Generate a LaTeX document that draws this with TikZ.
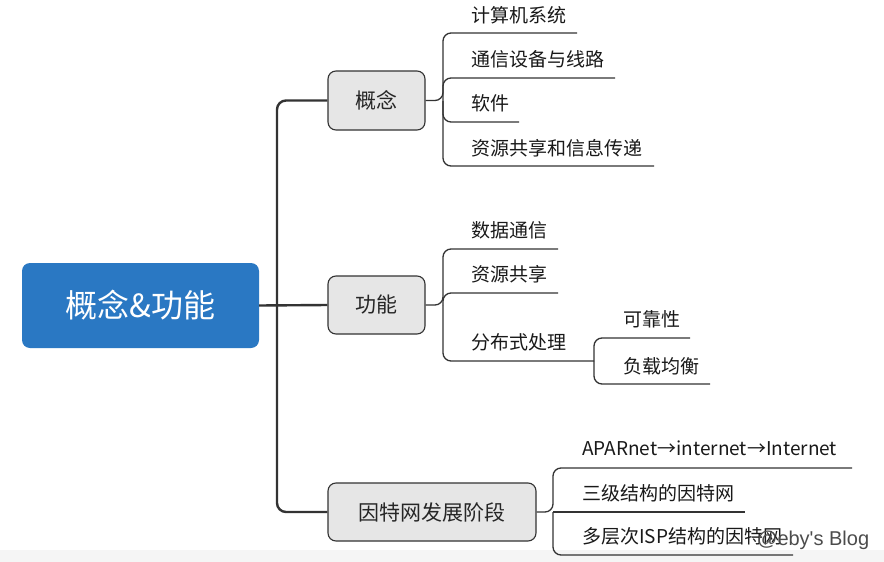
\documentclass[tikz,border=0pt]{standalone}
\usepackage{fontspec}
\setmainfont{Noto Sans CJK SC}
\newfontfamily\wmfont{Liberation Sans}
\usetikzlibrary{calc}
\definecolor{rootblue}{HTML}{2A78C3}
\definecolor{boxgray}{HTML}{E6E6E6}
\definecolor{linedark}{HTML}{333333}
\definecolor{bandgray}{HTML}{F5F5F5}
\begin{document}
\begin{tikzpicture}[x=1pt,y=-1pt,
  trunk/.style={draw=linedark,line width=2.4pt,rounded corners=9pt},
  twig/.style={draw=linedark,line width=1.3pt,rounded corners=8pt},
  rootbox/.style={fill=rootblue,rounded corners=8pt,minimum width=237pt,minimum height=85pt,
    text=white,font=\fontsize{32}{36}\selectfont},
  topic/.style={draw=linedark,line width=1.1pt,fill=boxgray,rounded corners=8pt,
    minimum height=58pt,font=\fontsize{21}{24}\selectfont,text=black!85},
  leaf/.style={anchor=west,inner sep=0pt,font=\fontsize{19}{22}\selectfont,text=black!90}]
\useasboundingbox (0,0) rectangle (884,562);
\fill[white] (0,0) rectangle (884,562);
\fill[bandgray] (0,550) rectangle (884,562);

% root and topics
\node[rootbox] (root) at (140.5,305.5) {概念\&功能};
\node[topic,minimum width=97pt,minimum height=59pt] (gn) at (376.5,100.5) {概念};
\node[topic,minimum width=97pt] (gl) at (376.5,305) {功能};
\node[topic,minimum width=208pt] (yt) at (432,512) {因特网发展阶段};

% trunk
\coordinate (tk) at (277,305);
\draw[trunk] (root.east) -- (gl.west);
\draw[trunk] (tk) |- (gn.west);
\draw[trunk] (tk) |- (yt.west);

% group 1 leaves
\node[leaf] (a1) at (471,15) {计算机系统};
\node[leaf] (a2) at (471,59) {通信设备与线路};
\node[leaf] (a3) at (471,103) {软件};
\node[leaf] (a4) at (471,148) {资源共享和信息传递};
\coordinate (ja) at (443,100.5);
\coordinate (ua1) at (577,33);
\coordinate (ua2) at (615,78);
\coordinate (ua3) at (519,122);
\coordinate (ua4) at (654,166);
\draw[twig] (gn.east) -- (ja) |- (ua1);
\draw[twig] (ja) |- (ua2);
\draw[twig] (ja) |- (ua3);
\draw[twig] (ja) |- (ua4);

% group 2 leaves
\node[leaf] (b1) at (471,230) {数据通信};
\node[leaf] (b2) at (471,274) {资源共享};
\node[leaf] (b3) at (471,342) {分布式处理};
\coordinate (jb) at (443,305);
\coordinate (ub1) at (558,249);
\coordinate (ub2) at (558,293);
\coordinate (ub3) at (577,361);
\coordinate (jc) at (594,361);
\draw[twig] (gl.east) -- (jb) |- (ub1);
\draw[twig] (jb) |- (ub2);
\draw[twig] (jb) |- (ub3) -- (jc);

% sub leaves
\node[leaf] (c1) at (623,319) {可靠性};
\node[leaf] (c2) at (623,366) {负载均衡};
\coordinate (uc1) at (690,338);
\coordinate (uc2) at (710,384);
\draw[twig] (jc) |- (uc1);
\draw[twig] (jc) |- (uc2);

% group 3 leaves
\node[leaf] (d1) at (582,448) {APARnet→internet→Internet};
\node[leaf] (d2) at (582,493) {三级结构的因特网};
\node[leaf] (d3) at (582,536) {多层次ISP结构的因特网};
\coordinate (jd) at (553,512);
\coordinate (ud1) at (852,468);
\coordinate (ud2) at (745,512);
\coordinate (ud3) at (793,555);
\draw[twig] (yt.east) -- (jd) |- (ud1);
\draw[twig] (jd) -- (ud2);
\draw[twig] (jd) |- (ud3);

% watermark
\node[anchor=base west,inner sep=0pt,text=black!70,font=\wmfont\fontsize{20}{24}\selectfont] (wm) at (757,545) {@eby's Blog};
\end{tikzpicture}
\end{document}
